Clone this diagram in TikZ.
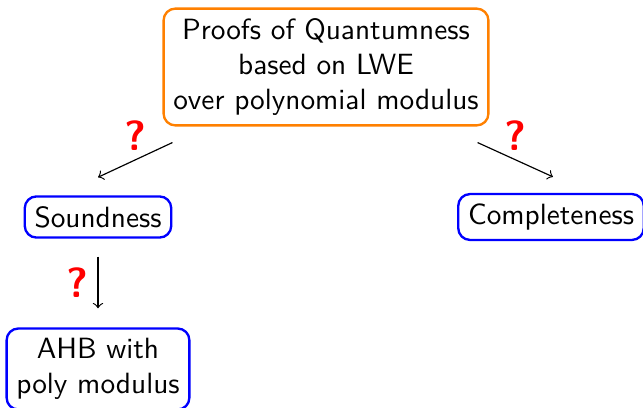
\documentclass[tikz,border=0pt]{standalone}
\usepackage{tikz}

\begin{document}
\begin{tikzpicture}[x=0.3414pt, y=-0.3414pt, font=\sffamily,
    goal/.style={draw=orange, thick, rounded corners=4pt, align=center},
    part/.style={draw=blue, thick, rounded corners=4pt, align=center},
    ask/.style={text=red, font=\sffamily\Large\bfseries}]
    \useasboundingbox (0,0) rectangle (643,408);
    % The main question on top.
        \node[goal] (pq) at (326,67) {Proofs of Quantumness\\based on LWE\\over polynomial modulus};
    % The two branches below it.
        \node[part] (sound) at (98,217) {Soundness};
        \node[part] (compl) at (551,217) {Completeness};
        \node[part] (ahb) at (98,369) {AHB with\\poly modulus};
    % Ends of the arrows, they do not touch the boxes.
        \coordinate (a1) at ([shift={(10,16)}]pq.south west);
        \coordinate (b1) at ([shift={(0,-18)}]sound.north);
        \coordinate (a2) at ([shift={(-12,16)}]pq.south east);
        \coordinate (b2) at ([shift={(2,-16)}]compl.north);
        \coordinate (a3) at ([shift={(0,18)}]sound.south);
        \coordinate (b3) at ([shift={(0,-19)}]ahb.north);
        \draw[->] (a1) -- (b1);
        \draw[->] (a2) -- (b2);
        \draw[->] (a3) -- (b3);
    % Below nodes are the question marks.
        \node[ask] (q1) at (135,136) {?};
        \node[ask] (q2) at (515,136) {?};
        \node[ask] (q3) at (77,283) {?};
\end{tikzpicture}
\end{document}
